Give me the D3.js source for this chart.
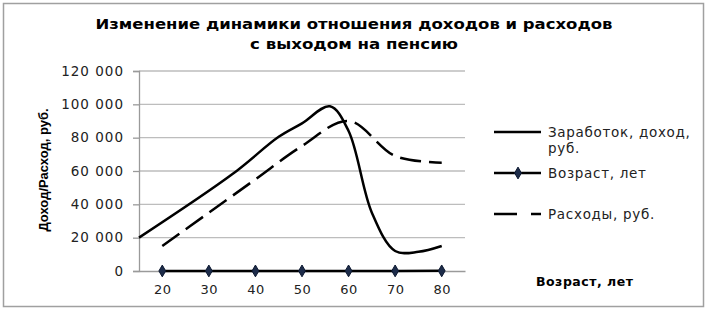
<!DOCTYPE html>
<html>
<head>
<meta charset="utf-8">
<script src="https://cdn.jsdelivr.net/npm/d3@7"></script>
<style>
  body { margin: 0; background: #fff; }
  svg { display: block; }
</style>
</head>
<body>
<svg id="chart" width="711" height="313"></svg>
<script>
// chart data
const ages = [20, 30, 40, 50, 60, 70, 80];
const yTicks = [0, 20000, 40000, 60000, 80000, 100000, 120000];

const incomeAges   = [15, 35, 45, 50, 56, 60, 65, 70, 75, 80];
const incomeValues = [20000, 58000, 80500, 88600, 98800, 84000, 35000, 12000, 11500, 15000];

const expenseValues = [15000, 35000, 55000, 75000, 90000, 69000, 65000];

// "Возраст, лет" series - plotted as its own values, shows up flat at 0
const ageValues = ages.slice();

const titleLines = ["Изменение динамики отношения доходов и расходов", "с выходом на пенсию"];
const yTitle = "Доход/Расход, руб.";
const xTitle = "Возраст, лет";
const legendItems = [
  {name: ["Заработок, доход,", "руб."], kind: "income"},
  {name: ["Возраст, лет"], kind: "age"},
  {name: ["Расходы, руб."], kind: "expense"}
];

const svg = d3.select("#chart");
const plot = {left: 139, right: 465, top: 71, bottom: 271};

const ru = d3.formatLocale({decimal: ",", thousands: " ", grouping: [3], currency: ["", " руб."]});
const fmt = ru.format(",d");

let x = d3.scaleLinear().domain([15, 85]).range([plot.left, plot.right]);
let y = d3.scaleLinear().domain([0, 120000]).range([plot.bottom, plot.top]);

// outer frame
svg.append("rect")
  .attr("x", 3.5).attr("y", 3.5)
  .attr("width", 700).attr("height", 303)
  .attr("fill", "#fff")
  .attr("stroke", "#a0a0a0")
  .attr("stroke-width", 1.5);

// title - original is stretched wide, pin each line to its width
const titleWidths = [517, 208];
svg.append("g")
  .selectAll("text")
  .data(titleLines)
  .enter().append("text")
  .attr("x", 354)
  .attr("y", (d, i) => 29 + i * 20)
  .attr("text-anchor", "middle")
  .attr("textLength", (d, i) => titleWidths[i])
  .attr("lengthAdjust", "spacingAndGlyphs")
  .style("font-family", "'DejaVu Sans', sans-serif")
  .style("font-weight", "bold")
  .style("font-size", "14.5px")
  .text(d => d);

// gridlines
svg.append("g")
  .selectAll("line")
  .data(yTicks.filter(d => d > 0))
  .enter().append("line")
  .attr("x1", plot.left).attr("x2", plot.right)
  .attr("y1", d => y(d)).attr("y2", d => y(d))
  .attr("stroke", "#bdbdbd")
  .attr("stroke-width", 1.3);

// y axis
let yAxis = svg.append("g")
  .attr("transform", `translate(${plot.left},0)`)
  .call(d3.axisLeft(y).tickValues(yTicks).tickFormat(fmt).tickSize(6).tickPadding(9));
yAxis.select(".domain").attr("stroke", "#9a9a9a").attr("stroke-width", 1.3);
yAxis.selectAll(".tick line").attr("stroke", "#9a9a9a").attr("stroke-width", 1.3);
yAxis.selectAll("text")
  .style("font-family", "'DejaVu Sans', sans-serif")
  .style("font-size", "13.5px")
  .style("letter-spacing", "1px")
  .attr("fill", "#222");

// x axis
let xAxis = svg.append("g")
  .attr("transform", `translate(0,${plot.bottom})`)
  .call(d3.axisBottom(x).tickValues(ages).tickFormat(d3.format("d")).tickSize(0).tickPadding(14));
xAxis.select(".domain").attr("stroke", "#9a9a9a").attr("stroke-width", 1.3);
xAxis.selectAll("text")
  .style("font-family", "'DejaVu Sans', sans-serif")
  .style("font-size", "13px")
  .style("letter-spacing", "0.5px")
  .attr("fill", "#222");

// axis titles
svg.append("text")
  .attr("transform", `translate(48,170) rotate(-90)`)
  .attr("text-anchor", "middle")
  .style("font-family", "'Liberation Sans Narrow', 'Liberation Sans', sans-serif")
  .style("font-weight", "bold")
  .style("font-size", "13px")
  .text(yTitle);

svg.append("text")
  .attr("x", 536).attr("y", 286)
  .style("font-family", "'DejaVu Sans', sans-serif")
  .style("font-weight", "bold")
  .style("font-size", "12.5px")
  .style("letter-spacing", "0.5px")
  .text(xTitle);

// series
const smooth = d3.line()
  .x(d => x(d[0]))
  .y(d => y(d[1]))
  .curve(d3.curveCatmullRom.alpha(0.5));

svg.append("path")
  .datum(d3.zip(incomeAges, incomeValues))
  .attr("d", smooth)
  .attr("fill", "none")
  .attr("stroke", "#000")
  .attr("stroke-width", 2.5);

svg.append("path")
  .datum(d3.zip(ages, expenseValues))
  .attr("d", smooth)
  .attr("fill", "none")
  .attr("stroke", "#000")
  .attr("stroke-width", 2.5)
  .attr("stroke-dasharray", "21,8");

svg.append("path")
  .datum(d3.zip(ages, ageValues))
  .attr("d", d3.line().x(d => x(d[0])).y(d => y(d[1])))
  .attr("fill", "none")
  .attr("stroke", "#000")
  .attr("stroke-width", 2.5);

const diamond = d3.symbol().type(d3.symbolDiamond).size(40);
svg.append("g")
  .selectAll("path")
  .data(d3.zip(ages, ageValues))
  .enter().append("path")
  .attr("transform", d => `translate(${x(d[0])},${y(d[1])})`)
  .attr("d", diamond)
  .attr("fill", "#1d2c4a")
  .attr("stroke", "#0c1830")
  .attr("stroke-width", 1);

// legend
const legendY = [132, 173, 214];
let lg = svg.append("g");
legendItems.forEach((item, i) => {
  let ly = legendY[i];
  let line = lg.append("line")
    .attr("x1", 494).attr("x2", 541)
    .attr("y1", ly).attr("y2", ly)
    .attr("stroke", "#000")
    .attr("stroke-width", 2.5);
  if (item.kind == "expense") line.attr("stroke-dasharray", "23,14");
  if (item.kind == "age") {
    lg.append("path")
      .attr("transform", `translate(518,${ly})`)
      .attr("d", diamond)
      .attr("fill", "#1d2c4a")
      .attr("stroke", "#0c1830");
  }
  let t = lg.append("text")
    .attr("x", 548).attr("y", ly + 5)
    .style("font-family", "'DejaVu Sans', sans-serif")
    .style("font-size", "13.5px")
    .style("letter-spacing", "0.7px")
    .attr("fill", "#222");
  item.name.forEach((s, j) => {
    t.append("tspan").attr("x", 548).attr("dy", j == 0 ? 0 : 16).text(s);
  });
});
</script>
</body>
</html>
